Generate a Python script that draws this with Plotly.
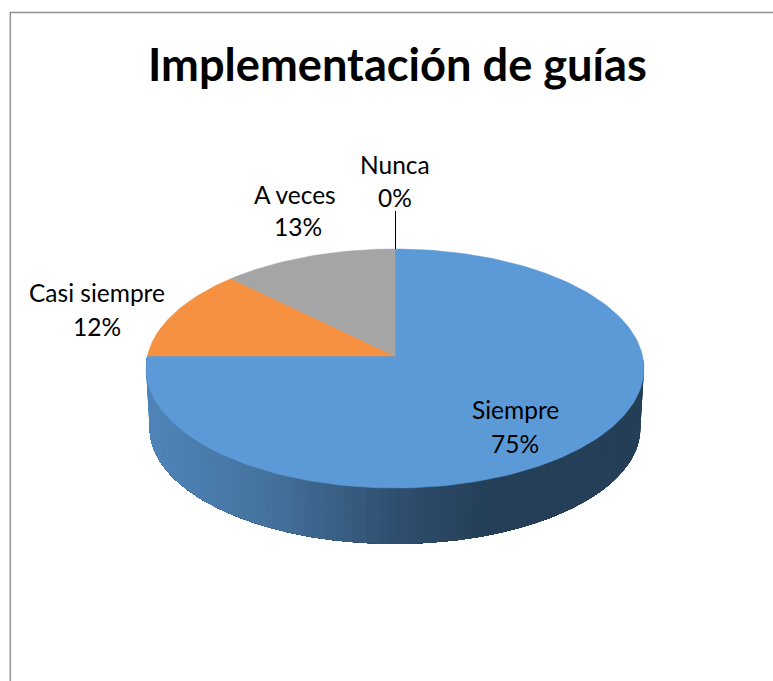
import math

import plotly.graph_objects as go

CATEGORIES = ["Siempre", "Casi siempre", "A veces", "Nunca"]
VALUES = [75, 12.4, 12.6, 0]

COLORS = {
    "Siempre": "#5b9ad6",
    "Casi siempre": "#f59140",
    "A veces": "#a5a5a5",
    "Nunca": "#ffc000",
    "frame": "#939393",
    "text": "#000000",
}
FONT = "Lato, Liberation Sans, sans-serif"

# side shading, left to right across the pie
SHADE_X = [146, 270, 400, 490, 644]
SHADE_RGB = [(80, 133, 186), (68, 114, 157), (47, 78, 110), (36, 63, 87), (36, 63, 87)]


def project(angle, cx, cy, rx, ry, k=0.1046):
    # clockwise angle from 12 o'clock onto the tilted disc
    u, v = math.sin(angle), math.cos(angle)
    d = 1 + k * v
    return cx + rx * u / d, cy - ry * v / d


def top(angle):
    return project(angle, 395, 356, 247.6, 118.2)


def base(angle):
    return project(angle, 395, 416, 244, 114.5)


def shade(x):
    for i in range(len(SHADE_X) - 1):
        if x <= SHADE_X[i + 1]:
            t = max(0, (x - SHADE_X[i]) / (SHADE_X[i + 1] - SHADE_X[i]))
            a, b = SHADE_RGB[i], SHADE_RGB[i + 1]
            return "rgb(%d,%d,%d)" % tuple(a[c] + (b[c] - a[c]) * t for c in range(3))
    return "rgb(%d,%d,%d)" % SHADE_RGB[-1]


def poly(xs, ys, color, line=0.5):
    return go.Scatter(x=xs, y=ys, mode="lines", fill="toself", fillcolor=color,
                      line=dict(color=color, width=line), hoverinfo="skip",
                      showlegend=False)


fig = go.Figure()

# Side wall: each strip runs on to the far end and the next one paints over it,
# so no seams show between strips
steps = 120
angles = [math.radians(90 + 180 * i / steps) for i in range(steps + 1)]
for i in range(steps):
    rest = angles[i:]
    upper = [top(a) for a in rest]
    lower = [base(a) for a in reversed(rest)]
    mid = (top(angles[i])[0] + top(angles[i + 1])[0]) / 2
    pts = upper + lower
    fig.add_trace(poly([q[0] for q in pts], [q[1] for q in pts], shade(mid), line=0))

# Top face
total = sum(VALUES)
start = 0.0
for name, value in zip(CATEGORIES, VALUES):
    sweep = 2 * math.pi * value / total
    if value > 0:
        n = max(2, int(value * 3))
        rim = [top(start + sweep * j / n) for j in range(n + 1)]
        xs = [395] + [q[0] for q in rim] + [395]
        ys = [356] + [q[1] for q in rim] + [356]
        fig.add_trace(poly(xs, ys, COLORS[name]))
    start += sweep

# Leader line for the empty slice
tip = top(0)
fig.add_trace(go.Scatter(x=[tip[0] + 0.5, tip[0] + 0.5], y=[tip[1], 211], mode="lines",
                         line=dict(color="#000000", width=1), hoverinfo="skip",
                         showlegend=False))

# label centre x for each of the two lines, and their y
name_pos = {"Siempre": (515, 409), "Casi siempre": (97, 292), "A veces": (295, 194), "Nunca": (395, 164)}
pct_pos = {"Siempre": (515, 443), "Casi siempre": (97, 326), "A veces": (298, 226), "Nunca": (395, 197)}

annotations = []
for name, value in zip(CATEGORIES, VALUES):
    for pos, text in ((name_pos[name], name), (pct_pos[name], f"{value:.0f}%")):
        annotations.append(dict(x=pos[0], y=pos[1], xref="x", yref="y", text=text,
                                showarrow=False,
                                font=dict(family=FONT, size=24.5, color=COLORS["text"])))
annotations.append(dict(x=397, y=63, xref="x", yref="y", text="<b>Implementación de guías</b>",
                        showarrow=False,
                        font=dict(family=FONT, size=45.2, color=COLORS["text"])))

fig.update_layout(
    width=773, height=681,
    margin=dict(l=0, r=0, t=0, b=0),
    paper_bgcolor="#ffffff", plot_bgcolor="#ffffff",
    showlegend=False,
    annotations=annotations,
    shapes=[dict(type="rect", xref="x", yref="y", x0=10.3, y0=12.6, x1=790, y1=700,
                 line=dict(color=COLORS["frame"], width=1.5))],
)
fig.update_xaxes(range=[0, 773], visible=False, fixedrange=True)
fig.update_yaxes(range=[681, 0], visible=False, fixedrange=True)

fig.write_html("out.html", config={"displayModeBar": False},
               post_script="document.body.style.margin='0';")
